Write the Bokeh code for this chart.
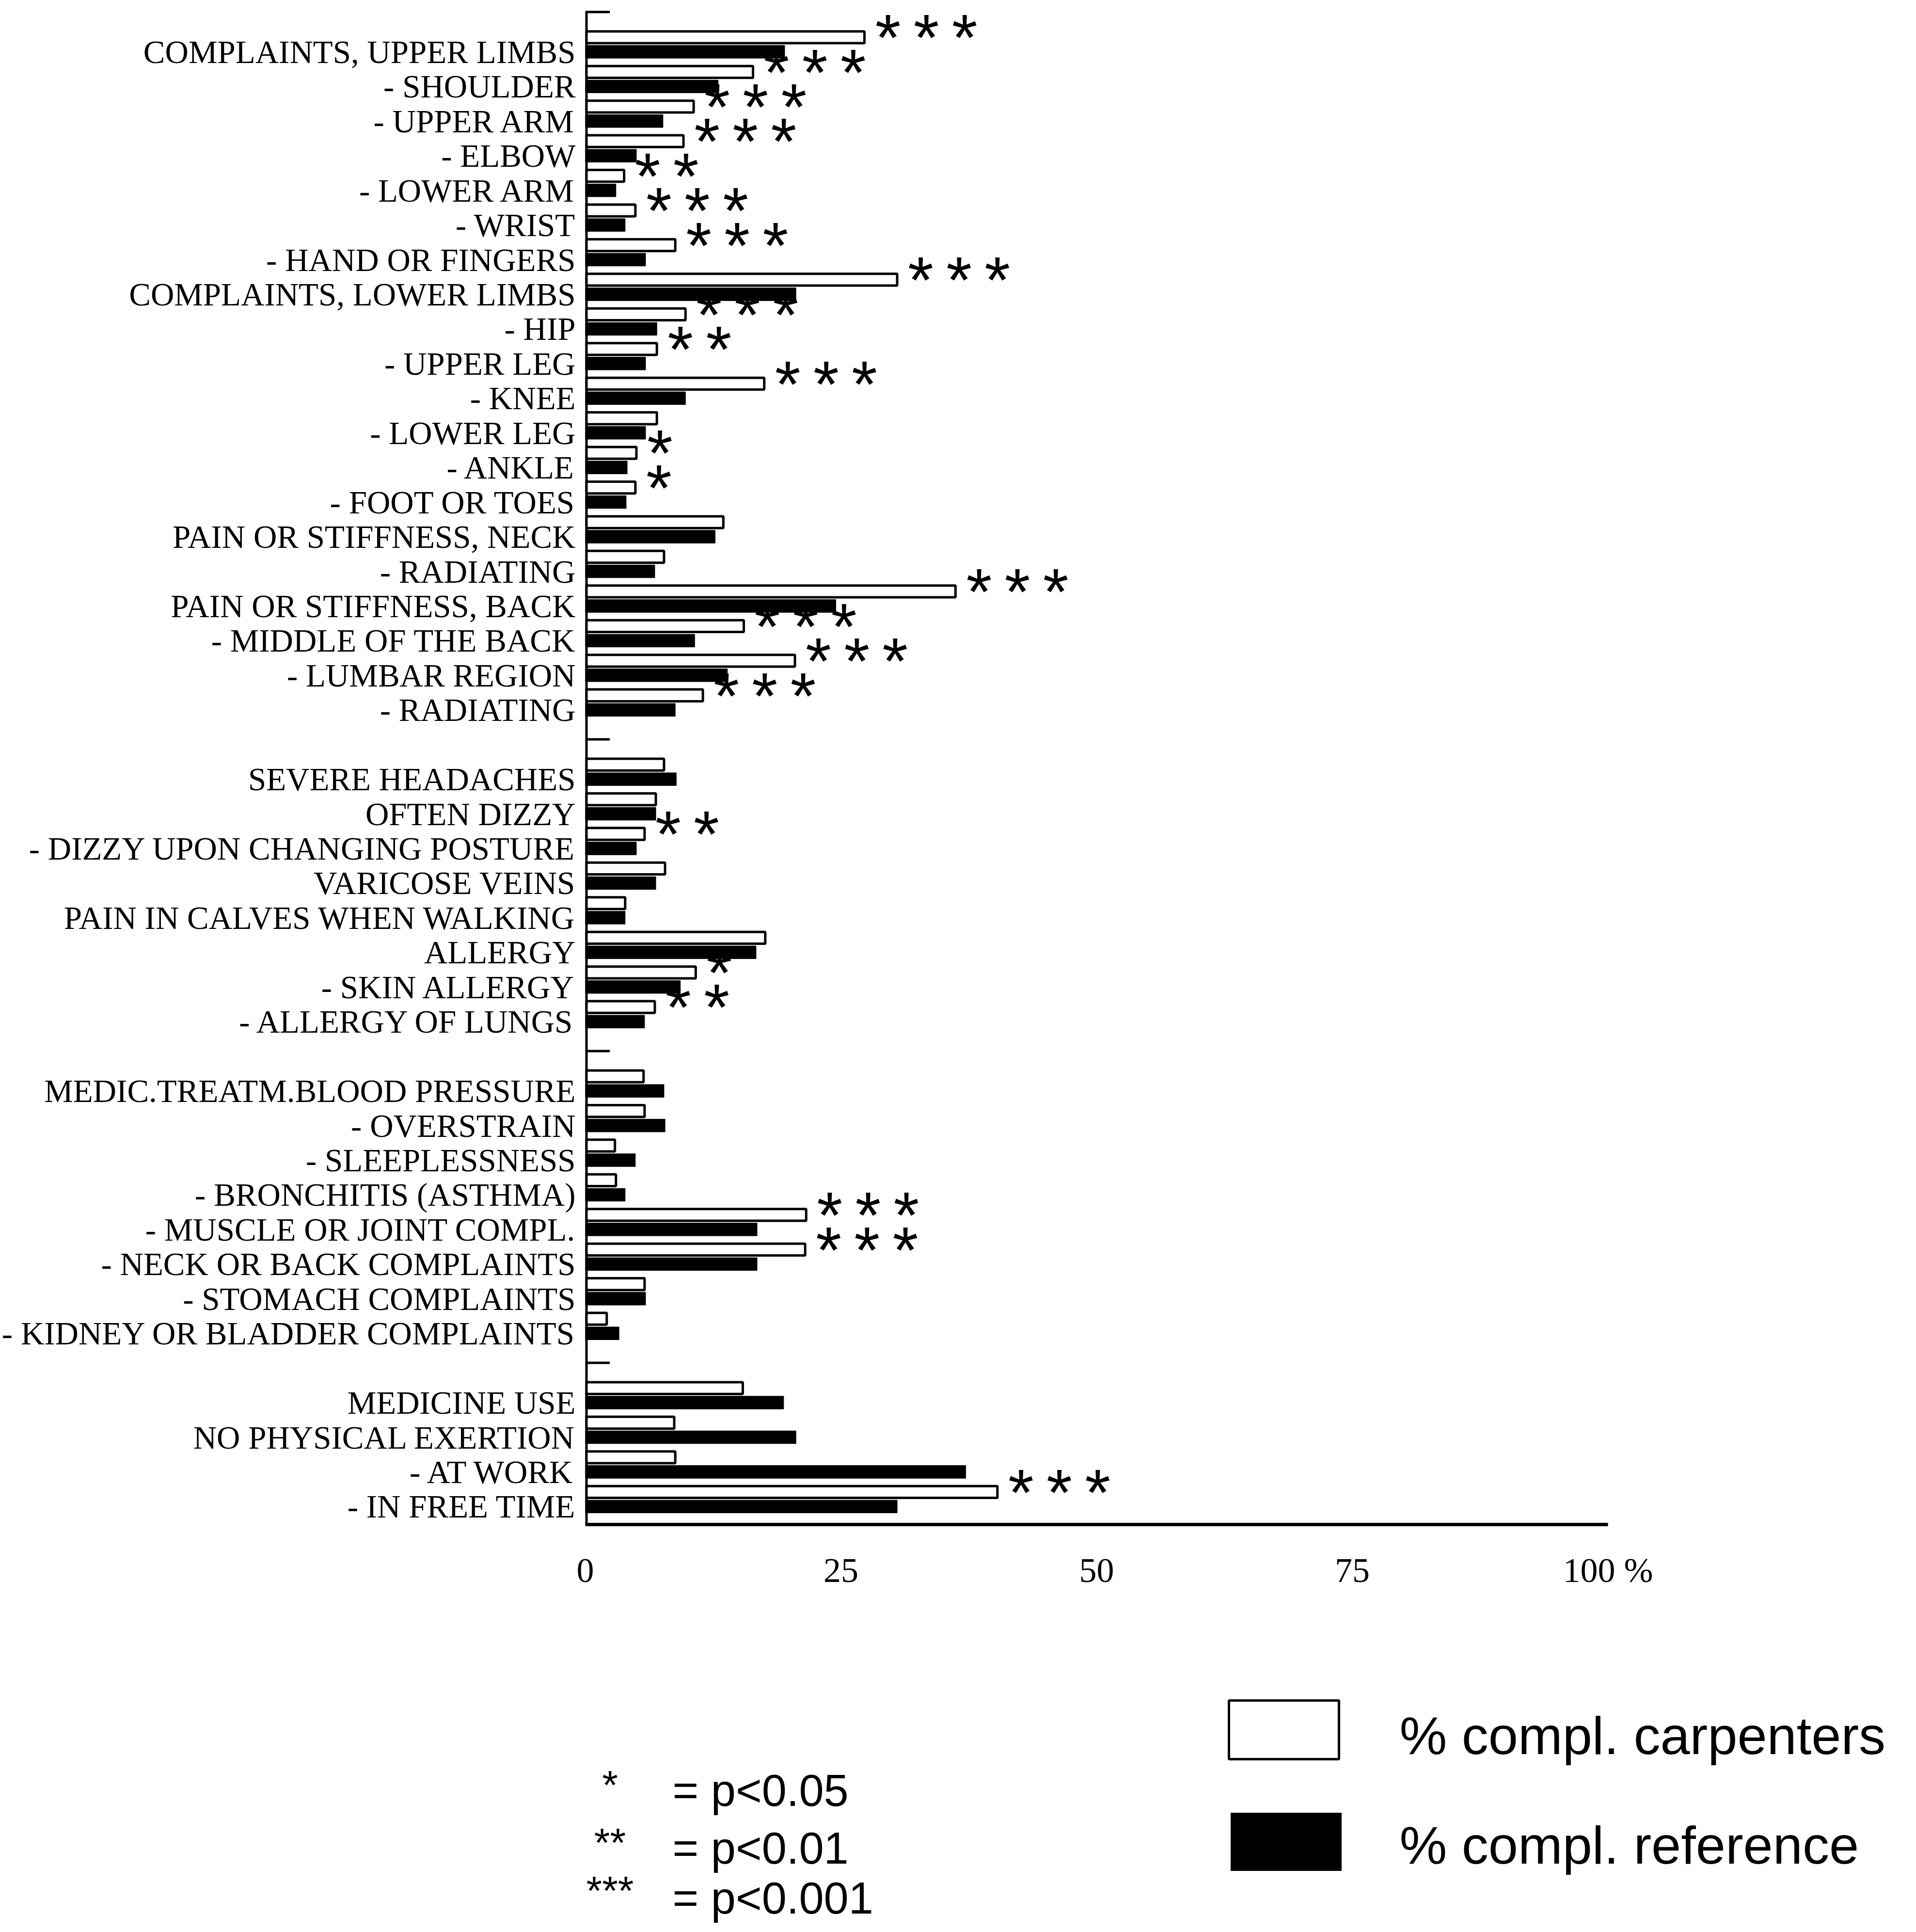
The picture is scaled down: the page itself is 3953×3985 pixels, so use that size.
from bokeh.plotting import figure
from bokeh.layouts import column
from bokeh.models import Range1d, FixedTicker, ColumnDataSource
from bokeh.embed import file_html
from bokeh.resources import INLINE
from bokeh.core.properties import value

# ---------------- data ----------------
g1_labels = ["COMPLAINTS, UPPER LIMBS", "- SHOULDER", "- UPPER ARM", "- ELBOW", "- LOWER ARM",
             "- WRIST", "- HAND OR FINGERS", "COMPLAINTS, LOWER LIMBS", "- HIP", "- UPPER LEG",
             "- KNEE", "- LOWER LEG", "- ANKLE", "- FOOT OR TOES", "PAIN OR STIFFNESS, NECK",
             "- RADIATING", "PAIN OR STIFFNESS, BACK", "- MIDDLE OF THE BACK", "- LUMBAR REGION",
             "- RADIATING"]
g1_carpenters = [27.3, 16.4, 10.6, 9.6, 3.8, 4.9, 8.8, 30.5, 9.8, 7.0,
                 17.5, 7.0, 5.0, 4.9, 13.5, 7.7, 36.2, 15.5, 20.5, 11.5]
g1_reference = [19.5, 13.0, 7.6, 5.0, 3.0, 3.9, 5.9, 20.6, 7.0, 5.9,
                9.8, 5.9, 4.1, 4.0, 12.7, 6.8, 24.5, 10.7, 13.9, 8.8]
g1_signif = [3, 3, 3, 3, 2, 3, 3, 3, 3, 2, 3, 0, 1, 1, 0, 0, 3, 3, 3, 3]

g2_labels = ["SEVERE HEADACHES", "OFTEN DIZZY", "- DIZZY UPON CHANGING POSTURE", "VARICOSE VEINS",
             "PAIN IN CALVES WHEN WALKING", "ALLERGY", "- SKIN ALLERGY", "- ALLERGY OF LUNGS"]
g2_carpenters = [7.7, 6.9, 5.8, 7.8, 3.9, 17.6, 10.8, 6.8]
g2_reference = [8.9, 6.9, 5.0, 6.9, 3.9, 16.7, 9.3, 5.8]
g2_signif = [0, 0, 2, 0, 0, 0, 1, 2]

g3_labels = ["MEDIC.TREATM.BLOOD PRESSURE", "- OVERSTRAIN", "- SLEEPLESSNESS", "- BRONCHITIS (ASTHMA)",
             "- MUSCLE OR JOINT COMPL.", "- NECK OR BACK COMPLAINTS", "- STOMACH COMPLAINTS",
             "- KIDNEY OR BLADDER COMPLAINTS"]
g3_carpenters = [5.7, 5.8, 2.9, 3.0, 21.6, 21.5, 5.8, 2.1]
g3_reference = [7.7, 7.8, 4.9, 3.9, 16.8, 16.8, 5.9, 3.3]
g3_signif = [0, 0, 0, 0, 3, 3, 0, 0]

g4_labels = ["MEDICINE USE", "NO PHYSICAL EXERTION", "- AT WORK", "- IN FREE TIME"]
g4_carpenters = [15.4, 8.7, 8.8, 40.3]
g4_reference = [19.4, 20.6, 37.2, 30.5]
g4_signif = [0, 0, 0, 3]

x_ticks = [0, 25, 50, 75, 100]
x_tick_labels = ["0", "25", "50", "75", "100 %"]
series_names = ["% compl. carpenters", "% compl. reference"]
signif_marks = ["*", "**", "***"]
signif_texts = ["= p<0.05", "= p<0.01", "= p<0.001"]

# ---------------- layout constants (pixels) ----------------
W, H = 3936, 3968
FRAME_LEFT = 1203
FRAME_W = W - FRAME_LEFT          # frame runs to the right edge; axis line bounded to 0..100
PX_PER_PCT = 21.1
SLOT_PX = 71.44
FRAME_H = 3144
Y_TOP = 1 - 106.4 / SLOT_PX       # first category centre 106 px below the top
Y_BOTTOM = Y_TOP + FRAME_H / SLOT_PX
MAIN_H = 3296
KEY_H = H - MAIN_H

# ---------------- build slots ----------------
groups = [(g1_labels, g1_carpenters, g1_reference, g1_signif),
          (g2_labels, g2_carpenters, g2_reference, g2_signif),
          (g3_labels, g3_carpenters, g3_reference, g3_signif),
          (g4_labels, g4_carpenters, g4_reference, g4_signif)]
slots, labels, carp, ref, sig = [], [], [], [], []
seps = [0]
k = 1
for gi, (lab, c, r, s) in enumerate(groups):
    for i in range(len(lab)):
        slots.append(k); labels.append(lab[i]); carp.append(c[i]); ref.append(r[i]); sig.append(s[i])
        k += 1
    if gi < len(groups) - 1:
        seps.append(k)
        k += 1

p = figure(frame_width=FRAME_W, frame_height=FRAME_H,
           min_border_left=FRAME_LEFT, min_border_top=0, min_border_right=0,
           min_border_bottom=MAIN_H - FRAME_H,
           x_range=Range1d(0, FRAME_W / PX_PER_PCT), y_range=Range1d(Y_BOTTOM, Y_TOP),
           output_backend="svg", toolbar_location=None)
p.xgrid.visible = False
p.ygrid.visible = False
p.outline_line_color = None

src = ColumnDataSource(dict(y=slots, yw=[s - 0.42 for s in slots], carp=carp, ref=ref))
r_w = p.hbar(y="yw", left=0, right="carp", height=0.34, fill_color="white",
             line_color="black", line_width=5, source=src)
r_b = p.hbar(y="y", left=0, right="ref", height=0.37, fill_color="black",
             line_color="black", line_width=1, source=src)

# vertical axis line starting at the top group tick (as in the original)
p.segment(x0=[0], x1=[0], y0=[seps[0] - 0.15], y1=[Y_BOTTOM], line_color="black", line_width=10)
# group separator ticks
p.segment(x0=[0] * len(seps), x1=[2.4] * len(seps), y0=[s - 0.15 for s in seps],
          y1=[s - 0.15 for s in seps], line_color="black", line_width=5)

# significance stars
sx, sy, st = [], [], []
for i in range(len(slots)):
    for j in range(sig[i]):
        sx.append(max(carp[i], ref[i]) + 2.3 + j * 3.75)
        sy.append(slots[i] - 0.78)
        st.append("*")
p.text(x=sx, y=sy, text=st, text_font=value("Liberation Sans"), text_font_size="136px",
       text_align="center", text_baseline="middle", y_offset=26, text_color="black")

# axes
p.xaxis.ticker = FixedTicker(ticks=x_ticks)
p.xaxis.bounds = (0, 100)
p.xaxis.major_label_overrides = {t: l for t, l in zip(x_ticks, x_tick_labels)}
p.xaxis.major_tick_line_color = None
p.xaxis.minor_tick_line_color = None
p.xaxis.axis_line_width = 7
p.xaxis.major_label_standoff = 48
p.xaxis.major_label_text_font = "Liberation Serif"
p.xaxis.major_label_text_font_size = "72px"
p.xaxis.major_label_text_color = "black"

p.yaxis.ticker = FixedTicker(ticks=slots)
p.yaxis.major_label_overrides = {s: l for s, l in zip(slots, labels)}
p.yaxis.axis_line_color = None
p.yaxis.major_tick_line_color = None
p.yaxis.minor_tick_line_color = None
p.yaxis.major_label_standoff = 14
p.yaxis.major_label_text_font = "Liberation Serif"
p.yaxis.major_label_text_font_size = "67px"
p.yaxis.major_label_text_color = "black"

# ---------------- key panel below the chart (same frame geometry, pixel coords) ----------------
k2 = figure(frame_width=FRAME_W, frame_height=KEY_H,
            min_border_left=FRAME_LEFT, min_border_right=0, min_border_top=0, min_border_bottom=0,
            x_range=Range1d(FRAME_LEFT, W), y_range=Range1d(KEY_H, 0),
            x_axis_location=None, y_axis_location=None,
            output_backend="svg", toolbar_location=None)
k2.xgrid.visible = False
k2.ygrid.visible = False
k2.outline_line_color = None

# series key: swatches + names
k2.quad(left=[2531], right=[2758], top=[211], bottom=[332],
        fill_color="white", line_color="black", line_width=5)
k2.quad(left=[2535], right=[2763], top=[443], bottom=[562],
        fill_color="black", line_color="black", line_width=1)
k2.text(x=[2883, 2883], y=[283, 509], text=series_names, text_font=value("Liberation Sans"),
        text_font_size="110px", text_align="left", text_baseline="middle", text_color="black")

# significance key
mark_rows = [385, 504, 603]
text_rows = [396, 515, 618]
k2.text(x=[1254] * 3, y=mark_rows, text=signif_marks, text_font=value("Liberation Sans"),
        text_font_size="84px", text_align="center", text_baseline="middle", text_color="black")
k2.text(x=[1383] * 3, y=text_rows, text=signif_texts, text_font=value("Liberation Sans"),
        text_font_size="92px", text_align="left", text_baseline="middle", text_color="black")

layout = column(p, k2, spacing=0)
open("out.html", "w").write(file_html(layout, INLINE))
